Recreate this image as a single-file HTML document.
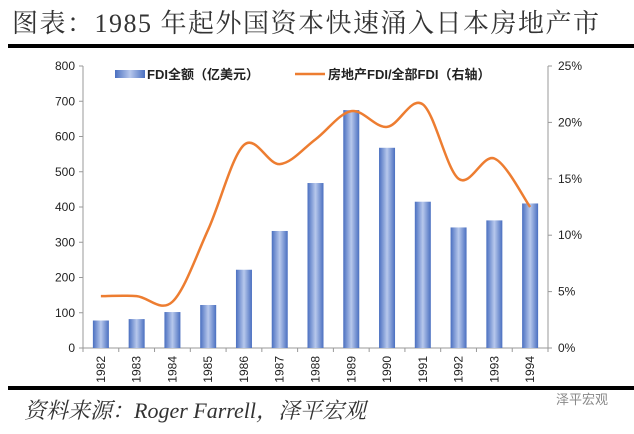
<!DOCTYPE html>
<html><head><meta charset="utf-8"><style>
body{margin:0;width:634px;height:429px;background:#fff;overflow:hidden;font-family:"Liberation Sans","Noto Sans CJK SC",sans-serif}
</style></head><body>
<svg width="634" height="429" xmlns="http://www.w3.org/2000/svg" id="svg">
<defs><linearGradient id="bg" x1="0" x2="1" y1="0" y2="0">
<stop offset="0" stop-color="#4a6fc0"/><stop offset="0.5" stop-color="#b7c8ec"/><stop offset="1" stop-color="#4a6fc0"/></linearGradient></defs>
<text x="12" y="32" font-family="'Liberation Serif','Noto Serif CJK SC',serif" font-size="26" letter-spacing="1.5" fill="#333">图表：1985 年起外国资本快速涌入日本房地产市</text>
<rect x="8" y="44" width="626" height="4" fill="#000"/>
<rect x="8" y="386" width="626" height="4" fill="#000"/>
<text x="24" y="418" font-family="'Liberation Serif','Noto Serif CJK SC',serif" font-style="italic" font-size="22" fill="#333">资料来源：Roger Farrell，泽平宏观</text>
<text x="556" y="404" font-size="13" fill="#888">泽平宏观</text>
<g id="g"></g>
<g>
<rect x="115" y="70" width="30" height="8" fill="url(#bg)"/>
<text x="147" y="79" font-size="13" font-weight="bold" fill="#222">FDI全额（亿美元）</text>
<line x1="295" y1="74" x2="325" y2="74" stroke="#ed7d31" stroke-width="2.5"/>
<text x="328" y="79" font-size="13" font-weight="bold" fill="#222">房地产FDI/全部FDI（右轴）</text>
</g>
</svg>
<script>
const years=["1982","1983","1984","1985","1986","1987","1988","1989","1990","1991","1992","1993","1994"];
const fdi=[78,82,102,122,222,332,468,675,568,415,342,362,410];
const share=[4.6,4.6,4.1,10.5,18,16.3,18.5,21,19.6,21.6,15,16.8,12.5];
const leftTicks=[0,100,200,300,400,500,600,700,800];
const rightTicks=[0,5,10,15,20,25];
const X0=83,X1=548,Y0=348,Y1=66,N=years.length,bw=(X1-X0)/N;
const xc=i=>X0+bw*(i+0.5), yl=v=>Y0-(v/800)*(Y0-Y1), yr=v=>Y0-(v/25)*(Y0-Y1);
const g=document.getElementById('g');const NS="http://www.w3.org/2000/svg";
function mk(t,a){const e=document.createElementNS(NS,t);for(const k in a)e.setAttribute(k,a[k]);g.appendChild(e);return e;}
let e;
e=mk('line',{x1:X0,y1:Y1,x2:X0,y2:Y0,stroke:'#999'});
e=mk('line',{x1:X1,y1:Y1,x2:X1,y2:Y0,stroke:'#999'});
e=mk('line',{x1:X0,y1:Y0,x2:X1,y2:Y0,stroke:'#999'});
leftTicks.forEach(v=>{mk('line',{x1:X0-4,x2:X0,y1:yl(v),y2:yl(v),stroke:'#999'});
e=mk('text',{x:X0-8,y:yl(v)+4,'text-anchor':'end','font-size':12,fill:'#222'});e.textContent=v;
});
rightTicks.forEach(v=>{mk('line',{x1:X1,x2:X1+4,y1:yr(v),y2:yr(v),stroke:'#999'});
e=mk('text',{x:X1+10,y:yr(v)+4,'font-size':12,fill:'#222'});e.textContent=v+'%';
});
for(let i=0;i<=N;i++)mk('line',{x1:X0+bw*i,x2:X0+bw*i,y1:Y0,y2:Y0+4,stroke:'#999'});
years.forEach((y,i)=>{
e=mk('rect',{x:xc(i)-8,y:yl(fdi[i]),width:16,height:Y0-yl(fdi[i]),fill:'url(#bg)'});

e=mk('text',{x:0,y:0,'font-size':12,fill:'#222','text-anchor':'end',transform:`translate(${xc(i)+4},${Y0+8}) rotate(-90)`});e.textContent=y;
});
const P=share.map((v,i)=>[xc(i),yr(v)]);
let d=`M${P[0][0]},${P[0][1]}`;
for(let i=0;i<P.length-1;i++){const p0=P[Math.max(0,i-1)],p1=P[i],p2=P[i+1],p3=P[Math.min(P.length-1,i+2)];
d+=`C${p1[0]+(p2[0]-p0[0])/6},${p1[1]+(p2[1]-p0[1])/6} ${p2[0]-(p3[0]-p1[0])/6},${p2[1]-(p3[1]-p1[1])/6} ${p2[0]},${p2[1]}`;}
e=mk('path',{d:d,fill:'none',stroke:'#ed7d31','stroke-width':2.5});

</script>
</body></html>
